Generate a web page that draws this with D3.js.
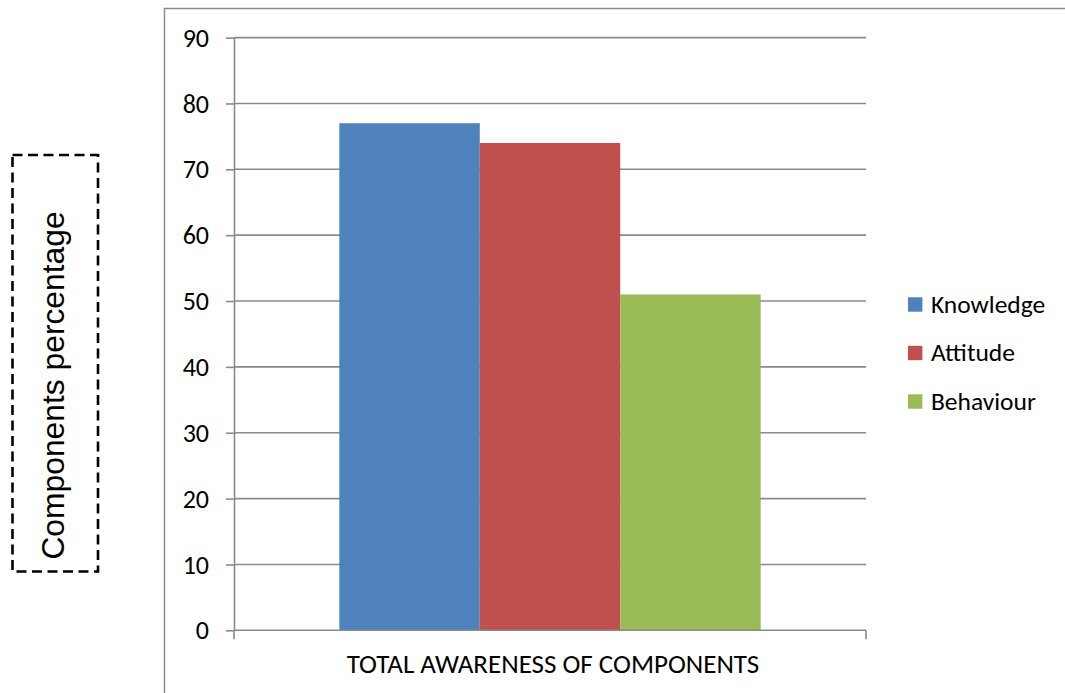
<!DOCTYPE html>
<html>
<head>
<meta charset="utf-8">
<script src="https://cdn.jsdelivr.net/npm/d3@7/dist/d3.min.js"></script>
<style>
  html, body { margin: 0; padding: 0; background: #fff; }
  svg { display: block; }
</style>
</head>
<body>
<svg id="chart" width="1065" height="693"></svg>
<script>
// ---- data ----
const categories = ["TOTAL AWARENESS OF COMPONENTS"];
const seriesNames = ["Knowledge", "Attitude", "Behaviour"];
const seriesValues = [77, 74, 51];   // one value per series for the single category
const seriesColors = ["#4F81BD", "#C0504D", "#9BBB59"];
const yTicks = [0, 10, 20, 30, 40, 50, 60, 70, 80, 90];
const yLabel = "Components percentage";

// ---- layout ----
const svg = d3.select("#chart");
const plot = { left: 234, right: 866, top: 37.6, bottom: 630.3 };
const labelFont = "Carlito, Lato, 'Open Sans', sans-serif";
const gridColor = "#8a8a8a";

const y = d3.scaleLinear().domain([0, 90]).range([plot.bottom, plot.top]);
const x0 = d3.scaleBand().domain(categories).range([plot.left, plot.right]).padding(0);
const x1 = d3.scaleBand().domain(seriesNames).range([0, x0.bandwidth()])
  .paddingInner(0).paddingOuter(0.75);

// outer chart frame (partially visible)
svg.append("path")
  .attr("d", `M164.5,693 V8.5 H1065`)
  .attr("fill", "none").attr("stroke", "#8c8c8c").attr("stroke-width", 1.5);

// gridlines
svg.append("g").selectAll("line").data(yTicks.filter(d => d > 0)).join("line")
  .attr("x1", plot.left).attr("x2", plot.right)
  .attr("y1", d => y(d)).attr("y2", d => y(d))
  .attr("stroke", gridColor).attr("stroke-width", 1.6);

// bars
const gBars = svg.append("g");
categories.forEach(cat => {
  gBars.selectAll("rect").data(seriesNames).join("rect")
    .attr("x", (s) => x0(cat) + x1(s))
    .attr("width", x1.bandwidth())
    .attr("y", (s, i) => y(seriesValues[i]))
    .attr("height", (s, i) => y(0) - y(seriesValues[i]))
    .attr("fill", (s, i) => seriesColors[i]);
});

// y axis
const yAxis = d3.axisLeft(y).tickValues(yTicks).tickSize(8).tickPadding(17).tickSizeOuter(0);
const gy = svg.append("g").attr("transform", `translate(${plot.left},0)`).call(yAxis);
gy.select(".domain").attr("stroke", gridColor).attr("stroke-width", 1.6);
gy.selectAll(".tick line").attr("stroke", gridColor).attr("stroke-width", 1.6);
gy.selectAll(".tick text")
  .attr("font-family", labelFont).attr("font-size", 26).attr("fill", "#000")
  .attr("dy", "0.33em");

// x axis (line + boundary ticks)
const gx = svg.append("g");
gx.append("line")
  .attr("x1", plot.left).attr("x2", plot.right)
  .attr("y1", y(0)).attr("y2", y(0))
  .attr("stroke", gridColor).attr("stroke-width", 1.6);
const boundaries = [x0.range()[0], x0.range()[1]];
gx.selectAll("line.tk").data(boundaries).join("line").attr("class", "tk")
  .attr("x1", d => d).attr("x2", d => d)
  .attr("y1", y(0)).attr("y2", y(0) + 9)
  .attr("stroke", gridColor).attr("stroke-width", 1.6);
gx.selectAll("text").data(categories).join("text")
  .attr("x", d => x0(d) + x0.bandwidth() / 2 + 3)
  .attr("y", 673)
  .attr("text-anchor", "middle")
  .attr("font-family", labelFont).attr("font-size", 27).attr("fill", "#000")
  .text(d => d);

// legend
const legend = svg.append("g");
const legendRows = legend.selectAll("g").data(seriesNames).join("g")
  .attr("transform", (d, i) => `translate(908, ${304.5 + i * 48.5})`);
legendRows.append("rect")
  .attr("x", 0).attr("y", -7.2).attr("width", 14.4).attr("height", 14.4)
  .attr("fill", (d, i) => seriesColors[i]);
legendRows.append("text")
  .attr("x", 23).attr("y", 0).attr("dy", "0.33em")
  .attr("font-family", labelFont).attr("font-size", 25.5).attr("fill", "#000")
  .text(d => d);

// y label in dashed box
svg.append("rect")
  .attr("x", 12.5).attr("y", 155).attr("width", 85.5).attr("height", 416.5)
  .attr("fill", "none").attr("stroke", "#000").attr("stroke-width", 2.6)
  .attr("stroke-dasharray", "10,5.5");
svg.append("text")
  .attr("transform", "translate(64,385.5) rotate(-90)")
  .attr("text-anchor", "middle")
  .attr("font-family", "'Liberation Sans', Arial, sans-serif")
  .attr("font-size", 31.8).attr("fill", "#000")
  .text(yLabel);
</script>
</body>
</html>
